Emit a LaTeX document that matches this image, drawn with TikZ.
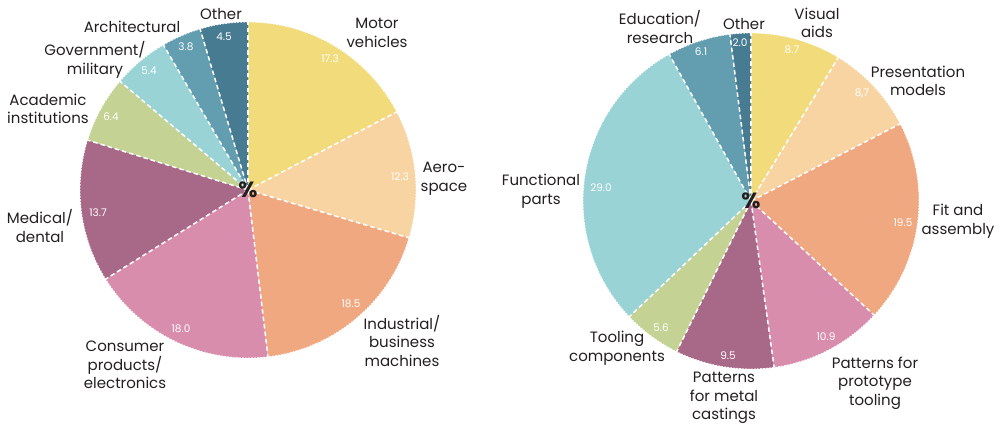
\documentclass[tikz,border=0pt]{standalone}
\usepackage{fontspec}
\setmainfont{Poppins}
\definecolor{pyellow}{HTML}{F2DB7A}
\definecolor{ppeach}{HTML}{F8D4A2}
\definecolor{porange}{HTML}{F0A880}
\definecolor{ppink}{HTML}{D98DAC}
\definecolor{pplum}{HTML}{A86888}
\definecolor{pgreen}{HTML}{C4D393}
\definecolor{pteal}{HTML}{99D3D5}
\definecolor{pblue}{HTML}{639DB0}
\definecolor{pdark}{HTML}{467B92}
\definecolor{ptext}{HTML}{231F20}

\begin{document}
\begin{tikzpicture}[x=1pt,y=1pt,
        lbl/.style={align=center,text=ptext,font=\fontsize{15}{18.5}\selectfont},
        val/.style={text=white,font=\fontsize{10.5}{12}\selectfont},
        pct/.style={text=ptext,font=\fontsize{22}{22}\selectfont\bfseries},
        sep/.style={white,line width=1.5pt,dash pattern=on 4.5pt off 3pt},
        rim/.style={white,line width=0.9pt,dash pattern=on 1.5pt off 1.5pt}]
        \useasboundingbox (0,0) rectangle (999,428);
        \coordinate (L) at (248,238);
        \coordinate (R) at (751,227);

        \fill[pyellow] (L) -- ++(90:168)     arc[start angle=90,end angle=27.72,radius=168] -- cycle;
        \fill[ppeach]  (L) -- ++(27.72:168)  arc[start angle=27.72,end angle=-16.56,radius=168] -- cycle;
        \fill[porange] (L) -- ++(-16.56:168) arc[start angle=-16.56,end angle=-83.16,radius=168] -- cycle;
        \fill[ppink]   (L) -- ++(-83.16:168) arc[start angle=-83.16,end angle=-147.96,radius=168] -- cycle;
        \fill[pplum]   (L) -- ++(-147.96:168) arc[start angle=-147.96,end angle=-197.28,radius=168] -- cycle;
        \fill[pgreen]  (L) -- ++(-197.28:168) arc[start angle=-197.28,end angle=-220.32,radius=168] -- cycle;
        \fill[pteal]   (L) -- ++(-220.32:168) arc[start angle=-220.32,end angle=-239.76,radius=168] -- cycle;
        \fill[pblue]   (L) -- ++(-239.76:168) arc[start angle=-239.76,end angle=-253.44,radius=168] -- cycle;
        \fill[pdark]   (L) -- ++(-253.44:168) arc[start angle=-253.44,end angle=-270,radius=168] -- cycle;
        \draw[rim] (L) circle[radius=168];
        \foreach \t in {90,27.72,-16.56,-83.16,-147.96,-197.28,-220.32,-239.76,-253.44}
            \draw[sep] (L) -- ++(\t:168);

        \fill[pyellow] (R) -- ++(90:168)     arc[start angle=90,end angle=58.68,radius=168] -- cycle;
        \fill[ppeach]  (R) -- ++(58.68:168)  arc[start angle=58.68,end angle=27.36,radius=168] -- cycle;
        \fill[porange] (R) -- ++(27.36:168)  arc[start angle=27.36,end angle=-42.84,radius=168] -- cycle;
        \fill[ppink]   (R) -- ++(-42.84:168) arc[start angle=-42.84,end angle=-82.08,radius=168] -- cycle;
        \fill[pplum]   (R) -- ++(-82.08:168) arc[start angle=-82.08,end angle=-116.28,radius=168] -- cycle;
        \fill[pgreen]  (R) -- ++(-116.28:168) arc[start angle=-116.28,end angle=-136.44,radius=168] -- cycle;
        \fill[pteal]   (R) -- ++(-136.44:168) arc[start angle=-136.44,end angle=-240.84,radius=168] -- cycle;
        \fill[pblue]   (R) -- ++(-240.84:168) arc[start angle=-240.84,end angle=-262.8,radius=168] -- cycle;
        \fill[pdark]   (R) -- ++(-262.8:168)  arc[start angle=-262.8,end angle=-270,radius=168] -- cycle;
        \draw[rim] (R) circle[radius=168];
        \foreach \t in {90,58.68,27.36,-42.84,-82.08,-116.28,-136.44,-240.84,-262.8}
            \draw[sep] (R) -- ++(\t:168);

        \node (Lpct) at (L) [pct] {\%};
        \node (Rpct) at (R) [pct] {\%};

        \node (Lmotorval)   at (330,369) [val] {17.3};
        \node (Laeroval)    at (400,251) [val] {12.3};
        \node (Lindustval)  at (351,124) [val] {18.5};
        \node (Lconsumval)  at (181,99)  [val] {18.0};
        \node (Lmedicval)   at (98,215)  [val] {13.7};
        \node (Lacademval)  at (111,311) [val] {6.4};
        \node (Lgovernval)  at (149,357) [val] {5.4};
        \node (Larchitval)  at (186,381) [val] {3.8};
        \node (Lotherval)   at (224,391) [val] {4.5};

        \node (Rvisualval)  at (792,378) [val] {8.7};
        \node (Rpresval)    at (862,335) [val] {8,7};
        \node (Rfitval)     at (903,205) [val] {19.5};
        \node (Rprotoval)   at (826,91)  [val] {10.9};
        \node (Rmetalval)   at (728,72)  [val] {9.5};
        \node (Rtoolval)    at (661,100) [val] {5.6};
        \node (Rfunctval)   at (601,240) [val] {29.0};
        \node (Reducval)    at (701,376) [val] {6.1};
        \node (Rotherval)   at (740,385) [val] {2.0};

        \node (Lmotor)   at (377,395) [lbl] {Motor\\vehicles};
        \node (Laero)    at (444,249) [lbl] {Aero-\\space};
        \node (Lindust)  at (402,87)  [lbl] {Industrial/\\business\\machines};
        \node (Lconsum)  at (125,63)  [lbl] {Consumer\\products/\\electronics};
        \node (Lmedic)   at (40,202)  [lbl] {Medical/\\dental};
        \node (Lacadem)  at (48,319)  [lbl] {Academic\\institutions};
        \node (Lgovern)  at (95,368)  [lbl] {Government/\\military};
        \node (Larchit)  at (132,401) [lbl] {Architectural};
        \node (Lother)   at (221,414) [lbl] {Other};

        \node (Reduc)    at (660,401) [lbl] {Education/\\research};
        \node (Rother)   at (744,404) [lbl] {Other};
        \node (Rvisual)  at (817,405) [lbl] {Visual\\aids};
        \node (Rpres)    at (918,347) [lbl] {Presentation\\models};
        \node (Rfit)     at (958,207) [lbl] {Fit and\\assembly};
        \node (Rproto)   at (875,45)  [lbl] {Patterns for\\prototype\\tooling};
        \node (Rmetal)   at (724,30)  [lbl] {Patterns\\for metal\\castings};
        \node (Rtool)    at (617,80)  [lbl] {Tooling\\components};
        \node (Rfunct)   at (541,237) [lbl] {Functional\\parts};
    \end{tikzpicture}
\end{document}
